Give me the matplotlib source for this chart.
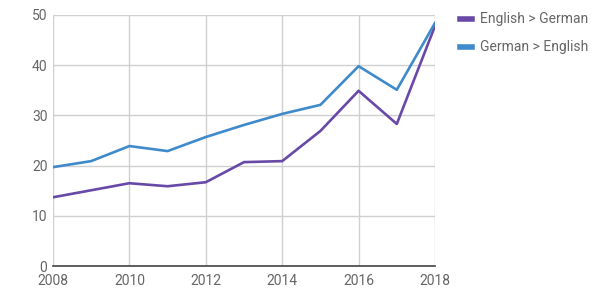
import matplotlib.pyplot as plt

years = [2008, 2009, 2010, 2011, 2012, 2013, 2014, 2015, 2016, 2017, 2018]
en_de = [13.7, 15.1, 16.5, 15.9, 16.7, 20.7, 20.9, 26.9, 34.9, 28.3, 47.8]
de_en = [19.7, 20.9, 23.9, 22.9, 25.7, 28.1, 30.3, 32.1, 39.8, 35.1, 48.4]
labels = ["English > German", "German > English"]
colors = ["#6849a8", "#3f8acb"]

plt.rcParams['font.family'] = ['Roboto', 'DejaVu Sans']

fig = plt.figure(figsize=(6, 2.99), dpi=100)
ax = fig.add_axes([0.0883, 0.110, 0.6367, 0.840])

ax.plot(years, en_de, color=colors[0], lw=1.9, label=labels[0])
ax.plot(years, de_en, color=colors[1], lw=1.9, label=labels[1])

ax.set_xlim(2008, 2018)
ax.set_ylim(0, 50)
ax.set_xticks(range(2008, 2019, 2))
ax.set_yticks(range(0, 51, 10))
ax.grid(True, color="#d0d0d0", lw=1)
ax.set_axisbelow(True)
for s in ["top", "right", "left"]:
    ax.spines[s].set_visible(False)
ax.spines["bottom"].set_color("#444444")
ax.spines["bottom"].set_linewidth(1.2)
ax.tick_params(length=0, labelsize=10, labelcolor="#666666")
ax.tick_params(axis="y", pad=4)
ax.tick_params(axis="x", pad=6)

leg = fig.legend(loc="upper left", bbox_to_anchor=(0.745, 1.0), frameon=False,
                 fontsize=10, labelcolor="#666666", handlelength=0.9,
                 handletextpad=0.6, labelspacing=1.0)
for h in leg.get_lines():
    h.set_linewidth(4)

plt.savefig("out.png", dpi=100)
